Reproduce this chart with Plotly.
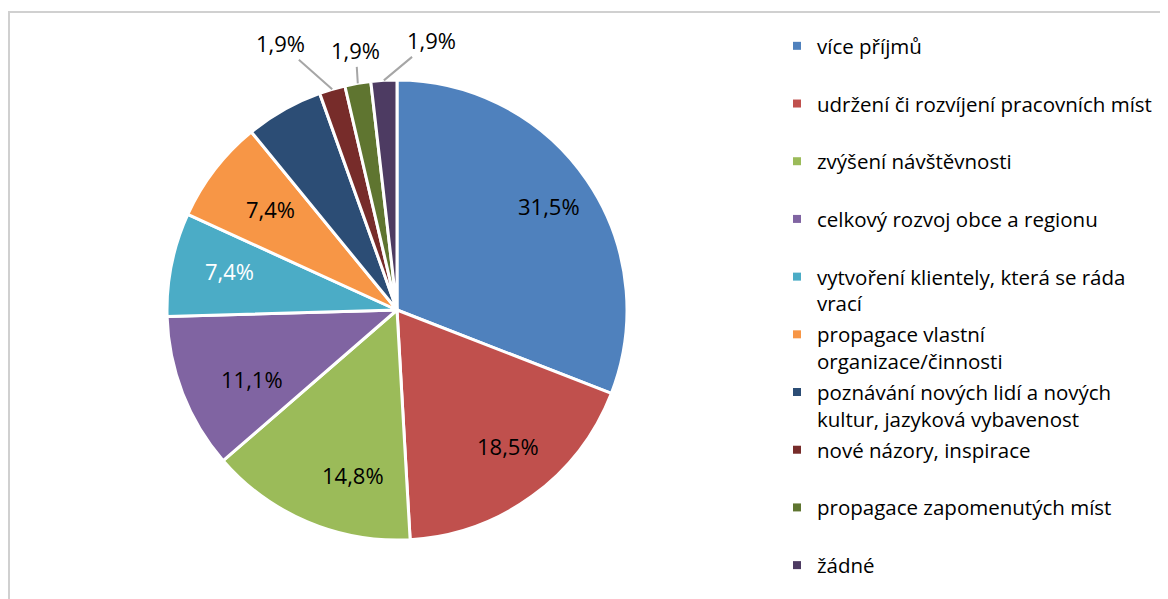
import math
import plotly.graph_objects as go

# data
categories = [
    "více příjmů",
    "udržení či rozvíjení pracovních míst",
    "zvýšení návštěvnosti",
    "celkový rozvoj obce a regionu",
    "vytvoření klientely, která se ráda vrací",
    "propagace vlastní organizace/činnosti",
    "poznávání nových lidí a nových kultur, jazyková vybavenost",
    "nové názory, inspirace",
    "propagace zapomenutých míst",
    "žádné",
]
legend_text = [
    "více příjmů<br> ",
    "udržení či rozvíjení pracovních míst<br> ",
    "zvýšení návštěvnosti<br> ",
    "celkový rozvoj obce a regionu<br> ",
    "vytvoření klientely, která se ráda<br>vrací",
    "propagace vlastní<br>organizace/činnosti",
    "poznávání nových lidí a nových<br>kultur, jazyková vybavenost",
    "nové názory, inspirace<br> ",
    "propagace zapomenutých míst<br> ",
    "žádné",
]
# slice sizes (answer counts) and the percentage labels printed on the chart
values = [17, 10, 8, 6, 4, 4, 3, 1, 1, 1]
value_labels = ["31,5%", "18,5%", "14,8%", "11,1%", "7,4%", "7,4%", "", "1,9%", "1,9%", "1,9%"]

colors = ['#4F81BD', '#C0504D', '#9BBB59', '#8064A2', '#4BACC6',
          '#F79646', '#2C4D75', '#772C2A', '#5F7530', '#4D3B62']
label_colors = ['black', 'black', 'black', 'black', 'white',
                'black', 'white', 'black', 'black', 'black']

# page is 1168x599 but the html body has an 8px margin
PAD = 8
W, H = 1168 - PAD, 599 - PAD
CX, CY, R = 397, 310, 230
FONT = "Open Sans"

# how far out (fraction of radius) the inside labels sit
inside_radius = [0.80, 0.82, 0.86, 0.83, 0.86, 0.84]
# offsets (px) of the outside labels from the slice edge
outside_offsets = [(-52, -46), (-2, -33), (48, -40)]


def to_paper(px, py):
    # page pixel -> paper fraction
    return (px - PAD) / W, 1 - (py - PAD) / H


x0, y1 = to_paper(CX - R, CY - R)
x1, y0 = to_paper(CX + R, CY + R)

fig = go.Figure()
fig.add_trace(go.Pie(
    labels=categories,
    values=values,
    sort=False,
    direction='clockwise',
    rotation=0,
    marker=dict(colors=colors, line=dict(color='white', width=3)),
    textinfo='none',
    hoverinfo='label+value',
    showlegend=False,
    domain=dict(x=[x0, x1], y=[y0, y1]),
))

# legend entries as separate groups so the spacing can be controlled
for name, col in zip(legend_text, colors):
    fig.add_trace(go.Scatter(
        x=[None], y=[None], mode='markers', name=name, legendgroup=name,
        marker=dict(symbol='square', size=8, color=col),
    ))

# slice labels placed from the data angles
total = sum(values)
annotations = []
cum = 0
i_in = 0
i_out = 0
for v, txt, tc in zip(values, value_labels, label_colors):
    mid = (cum + v / 2) / total * 2 * math.pi
    cum += v
    if not txt:
        continue
    if v / total > 0.05:
        rf = inside_radius[i_in]
        i_in += 1
        px = CX + rf * R * math.sin(mid)
        py = CY - rf * R * math.cos(mid)
        xp, yp = to_paper(px, py)
        annotations.append(dict(x=xp, y=yp, xref='paper', yref='paper', text=txt,
                                showarrow=False, font=dict(family=FONT, size=22, color=tc)))
    else:
        px = CX + R * math.sin(mid)
        py = CY - R * math.cos(mid)
        xp, yp = to_paper(px, py)
        ax, ay = outside_offsets[i_out]
        i_out += 1
        annotations.append(dict(x=xp, y=yp, xref='paper', yref='paper', text=txt,
                                showarrow=True, arrowhead=0, arrowwidth=2, arrowcolor='#A6A6A6',
                                ax=ax, ay=ay, standoff=0,
                                font=dict(family=FONT, size=22, color=tc)))

lx, ly = to_paper(777, 26)
fx0, fy1 = to_paper(9, 12)

fig.update_layout(
    width=W, height=H,
    margin=dict(l=0, r=0, t=0, b=0),
    paper_bgcolor='white',
    plot_bgcolor='white',
    font=dict(family=FONT, size=20.5, color='black'),
    xaxis=dict(visible=False),
    yaxis=dict(visible=False),
    annotations=annotations,
    legend=dict(
        x=lx, y=ly, xanchor='left', yanchor='top',
        valign='top', tracegroupgap=1.4, itemwidth=30,
        font=dict(family=FONT, size=20.5, color='black'),
        bgcolor='rgba(0,0,0,0)',
    ),
    shapes=[dict(type='rect', xref='paper', yref='paper',
                 x0=fx0, x1=1.02, y0=-0.02, y1=fy1,
                 line=dict(color='#D0D0D0', width=2), layer='below')],
)

fig.write_html("out.html")
